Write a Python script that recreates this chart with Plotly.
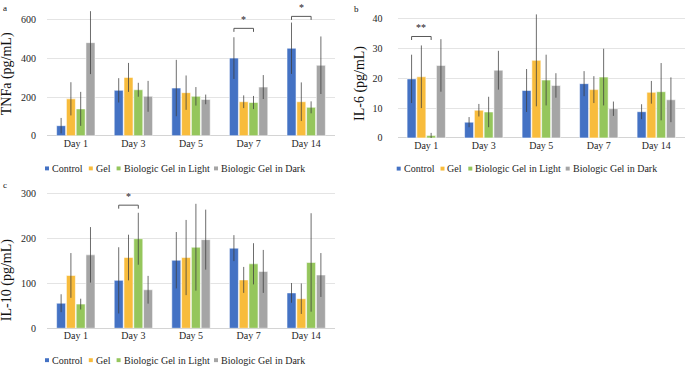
import plotly.graph_objects as go

W, H = 685, 373

days = ["Day 1", "Day 3", "Day 5", "Day 7", "Day 14"]
series_names = ["Control", "Gel", "Biologic Gel in Light", "Biologic Gel in Dark"]
colors = ["#4472C4", "#F8BC3C", "#95C65C", "#A5A5A5"]

# Panel a: TNFa (pg/mL)
tnfa_control = [52, 235, 247, 402, 453]
tnfa_control_err = [40, 63, 146, 108, 133]
tnfa_gel = [191, 302, 223, 176, 176]
tnfa_gel_err = [86, 75, 89, 33, 100]
tnfa_light = [139, 238, 204, 172, 147]
tnfa_light_err = [88, 36, 48, 34, 31]
tnfa_dark = [482, 204, 188, 252, 365]
tnfa_dark_err = [163, 80, 25, 62, 149]

# Panel b: IL-6 (pg/mL)
il6_control = [19.8, 5.3, 15.9, 18.2, 8.8]
il6_control_err = [8.1, 1.7, 7.2, 4.2, 2.5]
il6_gel = [20.5, 9.3, 26.0, 16.2, 15.3]
il6_gel_err = [10.5, 2.1, 15.4, 4.5, 3.8]
il6_light = [0.8, 8.7, 19.4, 20.4, 15.5]
il6_light_err = [0.9, 5.1, 8.5, 9.5, 9.6]
il6_dark = [24.3, 22.7, 17.6, 9.8, 12.8]
il6_dark_err = [8.8, 6.5, 4.1, 2.4, 7.5]

# Panel c: IL-10 (pg/mL)
il10_control = [56, 107, 152, 179, 79]
il10_control_err = [20, 74, 63, 29, 22]
il10_gel = [118, 158, 158, 108, 66]
il10_gel_err = [50, 51, 84, 29, 34]
il10_light = [54, 200, 181, 144, 147]
il10_light_err = [12, 58, 97, 46, 110]
il10_dark = [164, 86, 198, 127, 119]
il10_dark_err = [62, 31, 67, 48, 49]

# Significance brackets (Control vs Biologic Gel in Light)
sig_panels = ["a", "a", "b", "c"]
sig_days = ["Day 7", "Day 14", "Day 1", "Day 3"]
sig_labels = ["*", "*", "**", "*"]
sig_levels = [556, 618, 34, 275]

ytitles = {"a": "TNFa (pg/mL)", "b": "IL-6 (pg/mL)", "c": "IL-10 (pg/mL)"}
yticks = {"a": [0, 200, 400, 600], "b": [0, 10, 20, 30, 40], "c": [0, 100, 200, 300]}
yranges = {"a": [0, 660], "b": [0, 43], "c": [0, 305]}

data = {
    "a": [(tnfa_control, tnfa_control_err), (tnfa_gel, tnfa_gel_err),
          (tnfa_light, tnfa_light_err), (tnfa_dark, tnfa_dark_err)],
    "b": [(il6_control, il6_control_err), (il6_gel, il6_gel_err),
          (il6_light, il6_light_err), (il6_dark, il6_dark_err)],
    "c": [(il10_control, il10_control_err), (il10_gel, il10_gel_err),
          (il10_light, il10_light_err), (il10_dark, il10_dark_err)],
}

# Layout geometry (pixels)
geom = {
    "a": dict(x0=47, x1=335, ytop=5.4, ybot=136, title_xy=(7, 73), label_xy=(5, 5),
              legend_xy=(45, 169.5), standoff=10, ax=""),
    "b": dict(x0=397.5, x1=685, ytop=6.8, ybot=138.3, title_xy=(360, 83), label_xy=(356, 6),
              legend_xy=(396.7, 169.7), standoff=14, ax="2"),
    "c": dict(x0=47, x1=335, ytop=193.4, ybot=333.3, title_xy=(7, 284), label_xy=(5, 187),
              legend_xy=(45, 366), standoff=10, ax="3"),
}

FONT = "Liberation Serif, Times New Roman, DejaVu Serif, serif"
TXT = "#262626"

def px(x):
    return x / W

def py(y):
    return 1 - y / H

BARGAP = 0.32
fig = go.Figure()
layout_axes = {}
annotations = []
shapes = []

for key in ["a", "b", "c"]:
    g = geom[key]
    ax = g["ax"]
    for i, (vals, errs) in enumerate(data[key]):
        fig.add_trace(go.Bar(
            x=days, y=vals, name=series_names[i],
            marker=dict(color=colors[i], line=dict(color="rgba(255,255,255,0.7)", width=0.8)),
            error_y=dict(type="data", array=errs, visible=True, color="rgba(60,60,60,0.75)",
                         thickness=1, width=0),
            xaxis="x" + ax, yaxis="y" + ax, showlegend=False,
        ))
    layout_axes["xaxis" + ax] = dict(
        domain=[px(g["x0"]), px(g["x1"])], anchor="y" + ax, type="category",
        showgrid=False, showline=False, zeroline=False, ticks="",
        tickfont=dict(family=FONT, size=10, color=TXT), fixedrange=True,
    )
    layout_axes["yaxis" + ax] = dict(
        domain=[py(g["ybot"]), py(g["ytop"])], anchor="x" + ax, range=yranges[key],
        tickvals=yticks[key], showgrid=True, gridcolor="#E4E4E4", gridwidth=1,
        zeroline=True, zerolinecolor="#D4D4D4", zerolinewidth=1, showline=False, ticks="",
        ticklabelstandoff=g["standoff"],
        tickfont=dict(family=FONT, size=10, color=TXT), fixedrange=True,
    )
    tx, ty = g["title_xy"]
    annotations.append(dict(text=ytitles[key], x=px(tx), y=py(ty), xref="paper", yref="paper",
                            textangle=-90, showarrow=False, xanchor="center", yanchor="middle",
                            font=dict(family=FONT, size=14, color="#111111")))
    lx, ly = g["label_xy"]
    annotations.append(dict(text=key, x=px(lx), y=py(ly), xref="paper", yref="paper",
                            showarrow=False, xanchor="center", yanchor="middle",
                            font=dict(family=FONT, size=9, color="#111111")))
    gx, gy = g["legend_xy"]
    offsets = [0, 43.8, 71.6, 169.0]
    for i, name in enumerate(series_names):
        sx = gx + offsets[i]
        shapes.append(dict(type="rect", xref="paper", yref="paper",
                           x0=px(sx), x1=px(sx + 4), y0=py(gy + 2), y1=py(gy - 2),
                           fillcolor=colors[i], line=dict(width=0)))
        annotations.append(dict(text=name, x=px(sx + 5), y=py(gy), xref="paper", yref="paper",
                                showarrow=False, xanchor="left", yanchor="middle",
                                font=dict(family=FONT, size=10, color=TXT)))

slot = (1 - BARGAP) / 4
off_control = -1.5 * slot
off_light = 0.5 * slot
for pnl, day, lab, lvl in zip(sig_panels, sig_days, sig_labels, sig_levels):
    ax = geom[pnl]["ax"]
    ci = days.index(day)
    xa, xb = ci + off_control, ci + off_light
    shapes.append(dict(type="line", xref="x" + ax, yref="y" + ax, x0=xa, x1=xb, y0=lvl, y1=lvl,
                       line=dict(color="#595959", width=1)))
    for xx in (xa, xb):
        shapes.append(dict(type="line", xref="x" + ax, yref="y" + ax, ysizemode="pixel",
                           yanchor=lvl, x0=xx, x1=xx, y0=-3.5, y1=0,
                           line=dict(color="#595959", width=1)))
    annotations.append(dict(text=lab, x=(xa + xb) / 2, y=lvl, xref="x" + ax, yref="y" + ax,
                            showarrow=False, yanchor="bottom", yshift=1,
                            font=dict(family=FONT, size=10, color="#222222")))

fig.update_layout(
    width=W, height=H, margin=dict(l=0, r=0, t=0, b=0),
    paper_bgcolor="white", plot_bgcolor="white",
    barmode="group", bargap=BARGAP, bargroupgap=0.08,
    showlegend=False, annotations=annotations, shapes=shapes,
    font=dict(family=FONT), hovermode=False,
    **layout_axes,
)

fig.write_html("out.html", config={"displayModeBar": False, "staticPlot": True},
               post_script="document.body.style.margin='0';document.body.style.overflow='hidden';")
